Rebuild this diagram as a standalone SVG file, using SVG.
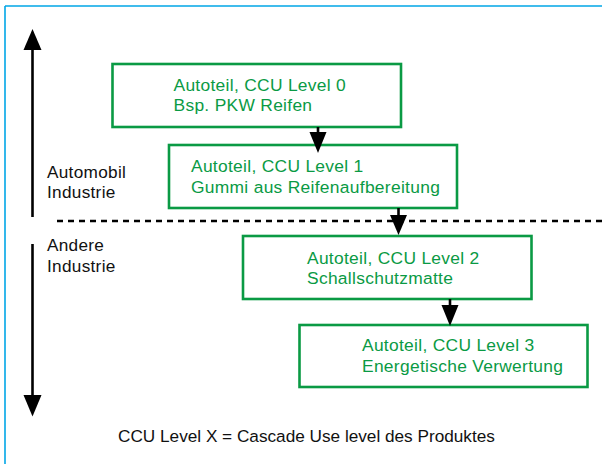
<svg xmlns="http://www.w3.org/2000/svg" width="602" height="464" viewBox="0 0 602 464">
<style>
.box{fill:#fff;stroke:#0a9a44;stroke-width:2.6}
.gt{font-family:"Liberation Sans",Arial,sans-serif;font-size:17.4px;letter-spacing:0.3px;fill:#0a9a44}
.bt{font-family:"Liberation Sans",Arial,sans-serif;font-size:17.2px;letter-spacing:0.3px;fill:#111}
.cap{font-family:"Liberation Sans",Arial,sans-serif;font-size:17.2px;fill:#111}
.ln{stroke:#000;stroke-width:2.6;fill:none}
.hd{fill:#000}
</style>
<rect width="602" height="464" fill="#fff"/>
<g id="frame">
<line x1="5" y1="6" x2="602" y2="6" stroke="#00a6e6" stroke-width="1.6"/>
<line x1="5" y1="6" x2="5" y2="464" stroke="#00a6e6" stroke-width="1.6"/>
</g>
<g id="axis">
<line class="ln" x1="32.5" y1="48" x2="32.5" y2="217"/>
<polygon class="hd" points="32.5,29 41.5,50 23.5,50"/>
<line class="ln" x1="32.5" y1="244" x2="32.5" y2="397"/>
<polygon class="hd" points="32.5,416.5 41.5,395 23.5,395"/>
<text class="bt" x="47" y="178">Automobil</text>
<text class="bt" x="47" y="198">Industrie</text>
<text class="bt" x="47" y="251">Andere</text>
<text class="bt" x="47" y="272">Industrie</text>
</g>
<g id="divider">
<line x1="57" y1="221" x2="602" y2="221" stroke="#000" stroke-width="2.6" stroke-dasharray="6 5"/>
</g>
<g id="node0">
<rect class="box" x="112.5" y="64" width="288.5" height="63"/>
<text class="gt" x="173.5" y="90.5">Autoteil, CCU Level 0</text>
<text class="gt" x="173.5" y="110.5">Bsp. PKW Reifen</text>
</g>
<g id="node1">
<rect class="box" x="169" y="145" width="288" height="63"/>
<text class="gt" x="191" y="171.5">Autoteil, CCU Level 1</text>
<text class="gt" x="191" y="192.5">Gummi aus Reifenaufbereitung</text>
</g>
<g id="node2">
<rect class="box" x="243" y="236" width="288.5" height="63"/>
<text class="gt" x="307" y="263.5">Autoteil, CCU Level 2</text>
<text class="gt" x="307" y="283.5">Schallschutzmatte</text>
</g>
<g id="node3">
<rect class="box" x="299.5" y="325" width="288" height="62"/>
<text class="gt" x="362" y="350.5">Autoteil, CCU Level 3</text>
<text class="gt" x="362" y="371.5">Energetische Verwertung</text>
</g>
<g id="connectors">
<line class="ln" x1="318" y1="127" x2="318" y2="133"/>
<polygon class="hd" points="318,153 326.5,132 309.5,132"/>
<line class="ln" x1="398.5" y1="208" x2="398.5" y2="216"/>
<polygon class="hd" points="398.5,235 407,215 390,215"/>
<line class="ln" x1="450" y1="299" x2="450" y2="306"/>
<polygon class="hd" points="450,326 458.5,305 441.5,305"/>
</g>
<text class="cap" x="118" y="442">CCU Level X = Cascade Use level des Produktes</text>
</svg>
